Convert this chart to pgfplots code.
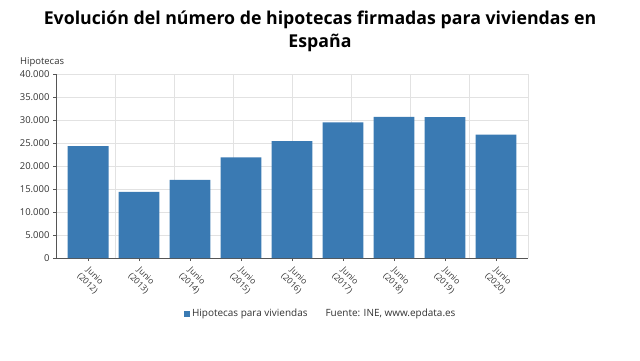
\documentclass[border=0pt]{standalone}
\usepackage{pgfplots}
\pgfplotsset{compat=1.18}
\usepackage{fontspec}
\setmainfont{Open Sans}
\definecolor{barblue}{HTML}{3A7AB3}
\definecolor{gridc}{HTML}{E2E2E2}
\definecolor{axc}{HTML}{555555}
\definecolor{txt}{HTML}{333333}
\pgfplotstableread{
x val
0 24300
1 14400
2 17000
3 21900
4 25400
5 29500
6 30700
7 30650
8 26800
}\datatable
\begin{document}
\begin{tikzpicture}[x=1bp,y=1bp]
\path[use as bounding box] (0,0) rectangle (640,360);
\node[font=\bfseries\fontsize{17.8}{23}\selectfont, align=center, text=black] at (320,329) {Evolución del número de hipotecas firmadas para viviendas en\\España};
\node[font=\fontsize{9.5}{10}\selectfont, text=txt, anchor=west, inner sep=0] at (20,298) {Hipotecas};
\begin{axis}[
  at={(56bp,102bp)}, anchor=south west,
  scale only axis, width=472bp, height=184bp,
  xmin=-0.63, xmax=8.63, ymin=0, ymax=40000,
  ytick={0,5000,...,40000},
  xtick={0,...,8},
  xticklabels={{Junio\\(2012)},{Junio\\(2013)},{Junio\\(2014)},{Junio\\(2015)},{Junio\\(2016)},{Junio\\(2017)},{Junio\\(2018)},{Junio\\(2019)},{Junio\\(2020)}},
  minor xtick={0.5275,1.685,2.8425,4.0,5.1575,6.315,7.4725,8.63},
  xminorgrids, ymajorgrids,
  grid style={gridc, line width=0.6pt},
  minor grid style={gridc, line width=0.6pt},
  minor tick length=0pt,
  axis x line*=bottom, axis y line*=left,
  axis line style={axc, line width=0.8pt, -},
  tick align=outside, major tick length=3bp,
  tick style={axc, line width=0.6pt},
  /pgf/number format/assume math mode=true,
  /pgf/number format/.cd, 1000 sep={.}, /pgfplots/.cd,
  scaled y ticks=false,
  yticklabel style={font=\fontsize{9.5}{10}\selectfont, text=txt},
  xticklabel style={font=\fontsize{8.5}{10.5}\selectfont, text=txt, rotate=-45, anchor=north west, align=center, xshift=2bp, yshift=-1bp, inner sep=1bp},
  legend columns=2,
  legend style={at={(0.561,-0.304)}, anchor=center, draw=none, font=\fontsize{10}{11}\selectfont, text=txt,
    /tikz/every even column/.append style={column sep=14bp}},
  legend cell align=left,
]
\addplot[ybar, bar width=0.8, fill=barblue, draw=none,
  legend image code/.code={\fill[barblue] (0,-0.3em) rectangle (0.6em,0.3em);}]
  table[x=x, y=val] {\datatable};
\addlegendentry{Hipotecas para viviendas}
\addlegendimage{empty legend}
\addlegendentry{Fuente: INE, www.epdata.es}
\end{axis}
\end{tikzpicture}
\end{document}
